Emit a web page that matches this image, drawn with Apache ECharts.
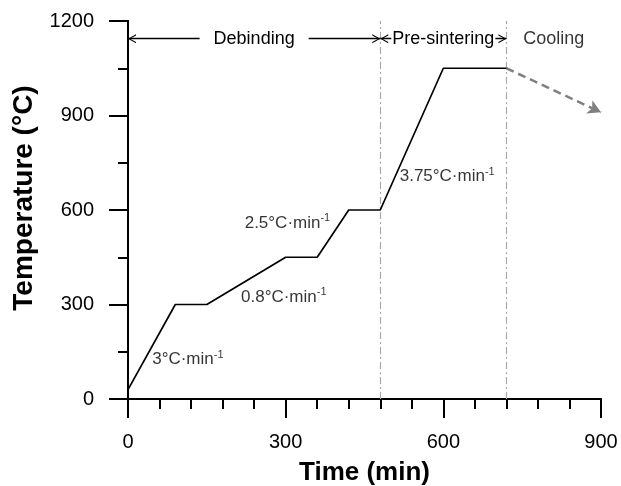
<!DOCTYPE html>
<html>
<head>
<meta charset="utf-8">
<script src="https://cdn.jsdelivr.net/npm/echarts@6/dist/echarts.min.js"></script>
<style>html,body{margin:0;padding:0;background:#fff}#c{width:621px;height:486px}</style>
</head>
<body>
<div id="c"></div>
<script>
// Heating profile
const timeMin = [0, 90, 150, 300, 360, 420, 480, 600, 720];
const tempC   = [30, 300, 300, 450, 450, 600, 600, 1050, 1050];
// Cooling (dashed arrow)
const coolTime = [720, 900];
const coolTemp = [1050, 910];
// Stage boundaries and labels
const stageBounds = [480, 720];
const stageNames = ['Debinding', 'Pre-sintering', 'Cooling'];
const stageStart = [0, 480, 720];
const stageEnd = [480, 720, 900];
const stageY = 1144;
// Rate annotations
const rateText = ['3°C·min', '0.8°C·min', '2.5°C·min', '3.75°C·min'];
const rateX = [46, 215, 222, 517];
const rateY = [125, 324, 559, 708];
// Axis ticks
const xTicks = [0, 300, 600, 900];
const yTicks = [0, 300, 600, 900, 1200];

const FONT = 'Liberation Sans, Arial, Helvetica, sans-serif';
// open chevron whose tip sits at the symbol centre
const chevron = 'path://M5,0 L5.01,0 L5,0.01 Z M5,10 L10,20 L8.6,20 L5,12.6 L1.4,20 L0,20 Z';

const chart = echarts.init(document.getElementById('c'), null, {renderer: 'canvas'});

const option = {
  animation: false,
  backgroundColor: '#fff',
  grid: {left: 128, right: 20, top: 21, bottom: 87, containLabel: false, outerBoundsMode: 'none'},
  xAxis: [{
    type: 'value', min: xTicks[0], max: xTicks[xTicks.length - 1], interval: 300,
    axisLine: {show: true, lineStyle: {color: '#000', width: 2}},
    splitLine: {show: false},
    axisTick: {show: true, length: 19, lineStyle: {color: '#000', width: 2}},
    minorTick: {show: true, splitNumber: 5, length: 10, lineStyle: {color: '#000', width: 2}},
    axisLabel: {color: '#000', fontSize: 20, fontFamily: FONT, margin: 33, formatter: v => String(v)},
    name: 'Time (min)', nameLocation: 'middle', nameGap: 61,
    nameTextStyle: {color: '#000', fontSize: 26, fontWeight: 'bold', fontFamily: FONT}
  }, {
    type: 'value', position: 'top', min: 0, max: 900,
    axisLine: {show: true, lineStyle: {color: '#000', width: 2}},
    axisTick: {show: false}, axisLabel: {show: false}, splitLine: {show: false}
  }],
  yAxis: [{
    type: 'value', min: yTicks[0], max: yTicks[yTicks.length - 1], interval: 300,
    axisLine: {show: true, lineStyle: {color: '#000', width: 2}},
    splitLine: {show: false},
    axisTick: {show: true, length: 19, lineStyle: {color: '#000', width: 2}},
    minorTick: {show: true, splitNumber: 2, length: 10, lineStyle: {color: '#000', width: 2}},
    axisLabel: {color: '#000', fontSize: 20, fontFamily: FONT, margin: 34, formatter: v => String(v)},
    name: 'Temperature (°C)', nameLocation: 'middle', nameGap: 90,
    nameTextStyle: {color: '#000', fontSize: 28, fontWeight: 'bold', fontFamily: FONT, padding: [0, 0, 0, 24]}
  }, {
    type: 'value', position: 'right', min: 0, max: 1200,
    axisLine: {show: true, lineStyle: {color: '#000', width: 2}},
    axisTick: {show: false}, axisLabel: {show: false}, splitLine: {show: false}
  }],
  series: [{
    type: 'line',
    data: timeMin.map((t, i) => [t, tempC[i]]),
    showSymbol: false, symbol: 'none',
    lineStyle: {color: '#000', width: 1.7},
    z: 5,
    markLine: {
      silent: true, symbol: ['none', 'none'],
      label: {show: false},
      lineStyle: {color: '#aaa', width: 1.2, type: [7, 3, 2, 3]},
      data: stageBounds.map(b => ({xAxis: b}))
    }
  }, {
    type: 'line', data: [], symbol: 'none',
    markLine: {
      silent: true,
      symbol: ['none', 'arrow'], symbolSize: [11, 13],
      label: {show: false},
      lineStyle: {color: '#808080', width: 2.5, type: [8, 5]},
      data: [[{coord: [coolTime[0], coolTemp[0]]}, {coord: [coolTime[1], coolTemp[1]]}]]
    }
  }, {
    type: 'line', data: [], symbol: 'none',
    markLine: {
      silent: true,
      symbol: [chevron, chevron], symbolSize: [9, 16],
      lineStyle: {color: '#000', width: 1.3, type: 'solid'},
      label: {
        show: true, position: 'insideMiddle', distance: 0, color: '#000', fontSize: 18, fontFamily: FONT,
        backgroundColor: '#fff', formatter: p => p.name
      },
      data: [0, 1].map(i => [
        {coord: [stageStart[i], stageY], name: stageNames[i],
          label: {padding: i === 0 ? [2, 14, 2, 14] : [2, 1, 2, 1]}},
        {coord: [stageEnd[i], stageY]}
      ])
    }
  }, {
    type: 'scatter', symbolSize: 0,
    data: [{value: [(stageStart[2] + stageEnd[2]) / 2, stageY], name: stageNames[2]}],
    label: {show: true, position: 'inside', color: '#000', fontSize: 18, fontFamily: FONT, formatter: p => p.name},
    silent: true
  }, {
    type: 'scatter', symbolSize: 0,
    data: rateText.map((t, i) => ({value: [rateX[i], rateY[i]], name: t})),
    silent: true,
    label: {
      show: true, position: 'right', distance: 0,
      formatter: p => '{a|' + p.name + '}{s|-1}',
      rich: {
        a: {color: '#000', fontSize: 17, fontFamily: FONT},
        s: {color: '#000', fontSize: 11, fontFamily: FONT, verticalAlign: 'top', padding: [0, 0, 9, 0]}
      }
    }
  }]
};
chart.setOption(option);
</script>
</body>
</html>
